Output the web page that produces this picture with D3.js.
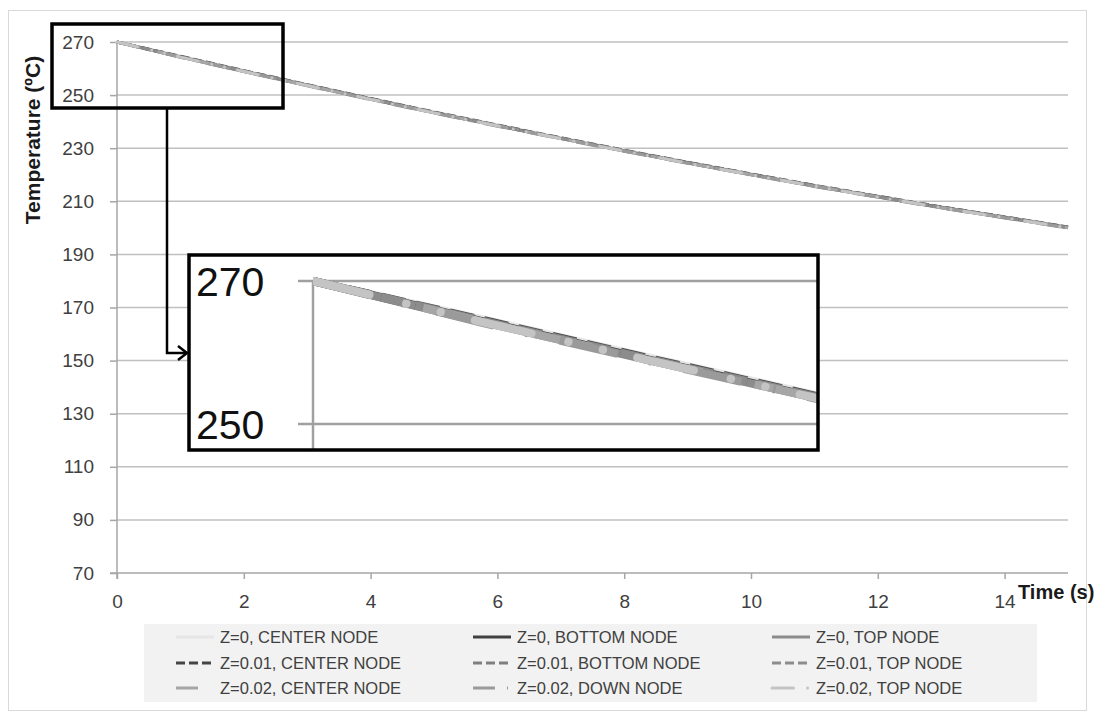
<!DOCTYPE html>
<html>
<head>
<meta charset="utf-8">
<script src="https://cdn.jsdelivr.net/npm/d3@7"></script>
<style>
  html, body { margin: 0; padding: 0; background: #fff; }
  svg { display: block; font-family: "Liberation Sans", Arial, sans-serif; }
</style>
</head>
<body>
<svg id="chart" width="1094" height="711"></svg>
<script>
// ---------------- data ----------------
const times = [0, 1, 2, 3, 4, 5, 6, 7, 8, 9, 10, 11, 12, 13, 14, 15];
const z0Center   = [270, 264.7, 259.3, 254.0, 248.8, 243.7, 238.8, 234.0, 229.3, 224.8, 220.4, 216.1, 212.0, 208.0, 204.2, 200.4];
const z0Bottom   = [270, 264.4, 259.0, 253.7, 248.5, 243.4, 238.5, 233.7, 229.0, 224.5, 220.1, 215.8, 211.7, 207.7, 203.9, 200.1];
const z0Top      = [270, 264.3, 258.9, 253.6, 248.4, 243.3, 238.4, 233.6, 228.9, 224.4, 220.0, 215.7, 211.6, 207.6, 203.8, 200.0];
const z001Center = [270, 264.6, 259.2, 253.9, 248.7, 243.6, 238.7, 233.9, 229.2, 224.7, 220.3, 216.0, 211.9, 207.9, 204.1, 200.3];
const z001Bottom = [270, 264.5, 259.1, 253.8, 248.6, 243.5, 238.6, 233.8, 229.1, 224.6, 220.2, 215.9, 211.8, 207.8, 204.0, 200.2];
const z001Top    = [270, 264.4, 259.0, 253.7, 248.5, 243.4, 238.5, 233.7, 229.0, 224.5, 220.1, 215.8, 211.7, 207.7, 203.9, 200.1];
const z002Center = [270, 264.3, 258.9, 253.6, 248.4, 243.3, 238.4, 233.6, 228.9, 224.4, 220.0, 215.7, 211.6, 207.6, 203.8, 200.0];
const z002Down   = [270, 264.2, 258.8, 253.5, 248.3, 243.2, 238.3, 233.5, 228.8, 224.3, 219.9, 215.6, 211.5, 207.5, 203.7, 199.9];
const z002Top    = [270, 264.3, 258.9, 253.6, 248.4, 243.3, 238.4, 233.6, 228.9, 224.4, 220.0, 215.7, 211.6, 207.6, 203.8, 200.0];

const seriesNames = [
  "Z=0, CENTER NODE", "Z=0, BOTTOM NODE", "Z=0, TOP NODE",
  "Z=0.01, CENTER NODE", "Z=0.01, BOTTOM NODE", "Z=0.01, TOP NODE",
  "Z=0.02, CENTER NODE", "Z=0.02, DOWN NODE", "Z=0.02, TOP NODE"
];
const seriesValues = [z0Center, z0Bottom, z0Top, z001Center, z001Bottom, z001Top, z002Center, z002Down, z002Top];

const yTicks = [70, 90, 110, 130, 150, 170, 190, 210, 230, 250, 270];
const xTicks = [0, 2, 4, 6, 8, 10, 12, 14];
const insetYTicks = [250, 270];

const yTitle = "Temperature (ºC)";
const xTitle = "Time (s)";

// ---------------- styles ----------------
const styles = [
  { color: "#e6e6e6", dash: null, cap: "butt" },
  { color: "#404040", dash: null, cap: "butt" },
  { color: "#8c8c8c", dash: null, cap: "butt" },
  { color: "#454545", dash: [9, 4], cap: "butt" },
  { color: "#7f7f7f", dash: [9, 4], cap: "butt" },
  { color: "#8c8c8c", dash: [9, 4], cap: "butt" },
  { color: "#a6a6a6", dash: [22, 20], cap: "butt" },
  { color: "#9a9a9a", dash: [22, 12, 1, 12], cap: "butt" },
  { color: "#c4c4c4", dash: [21.5, 14, 0.1, 13, 0.1, 13], cap: "round" }
];

const svg = d3.select("#chart");
const x = d3.scaleLinear().domain([0, 15]).range([117, 1068]);
const y = d3.scaleLinear().domain([70, 270]).range([573, 42]);

const series = seriesNames.map((name, i) => ({
  name, style: styles[i],
  pts: times.map((t, j) => [t, seriesValues[i][j]])
}));

// outer chart border
svg.append("rect").attr("x", 8.5).attr("y", 10.5).attr("width", 1078).attr("height", 700)
  .attr("fill", "none").attr("stroke", "#d9d9d9").attr("stroke-width", 1);

// gridlines
svg.append("g").selectAll("line").data(yTicks.filter(v => v > 70)).join("line")
  .attr("x1", x(0)).attr("x2", x(15))
  .attr("y1", d => y(d)).attr("y2", d => y(d))
  .attr("stroke", "#c0c0c0").attr("stroke-width", 1.5);

// y axis
const yAxis = svg.append("g").attr("transform", `translate(${x(0)},0)`)
  .call(d3.axisLeft(y).tickValues(yTicks).tickSize(7).tickPadding(16).tickSizeOuter(0));
yAxis.select(".domain").remove();
yAxis.selectAll(".tick line").attr("stroke", "#a6a6a6").attr("stroke-width", 1.5);
yAxis.selectAll("text").attr("font-size", 19).attr("fill", "#404040").attr("font-family", "Liberation Sans, Arial, sans-serif");

// x axis
const xAxis = svg.append("g").attr("transform", `translate(0,${y(70)})`)
  .call(d3.axisBottom(x).tickValues(xTicks).tickSize(6).tickPadding(16).tickSizeOuter(0));
xAxis.select(".domain").remove();
xAxis.selectAll(".tick line").attr("stroke", "#a6a6a6").attr("stroke-width", 1.5);
xAxis.selectAll("text").attr("font-size", 19).attr("fill", "#404040").attr("font-family", "Liberation Sans, Arial, sans-serif");

// axis lines
svg.append("line").attr("x1", x(0)).attr("x2", x(0)).attr("y1", y(270)).attr("y2", y(70) + 6)
  .attr("stroke", "#a6a6a6").attr("stroke-width", 1.5);
svg.append("line").attr("x1", x(0) - 7).attr("x2", x(15)).attr("y1", y(70)).attr("y2", y(70))
  .attr("stroke", "#a6a6a6").attr("stroke-width", 1.5);

// axis titles
svg.append("text").attr("transform", `translate(40,140) rotate(-90)`)
  .attr("text-anchor", "middle").attr("font-size", 21).attr("font-weight", "bold")
  .attr("fill", "#1a1a1a").text(yTitle);
svg.append("text").attr("x", 1018).attr("y", 599)
  .attr("font-size", 20).attr("font-weight", "bold").attr("fill", "#1a1a1a").text(xTitle);

// main lines
const line = d3.line().x(d => x(d[0])).y(d => y(d[1]));
svg.append("g").selectAll("path").data(series).join("path")
  .attr("d", d => line(d.pts))
  .attr("fill", "none")
  .attr("stroke", d => d.style.color)
  .attr("stroke-width", 3)
  .attr("stroke-linecap", d => d.style.cap)
  .attr("stroke-dasharray", d => d.style.dash ? d.style.dash.join(",") : null);

// zoom box on main chart
svg.append("rect").attr("x", 52).attr("y", 24).attr("width", 231).attr("height", 84)
  .attr("fill", "none").attr("stroke", "#000").attr("stroke-width", 3.5);
svg.append("path").attr("d", "M167,108 V353 H187").attr("fill", "none")
  .attr("stroke", "#000").attr("stroke-width", 2.5);
svg.append("path").attr("d", "M178,346 L187,353 L178,360").attr("fill", "none")
  .attr("stroke", "#000").attr("stroke-width", 2.5);

// ---------------- inset ----------------
const ix = d3.scaleLinear().domain([0, 3]).range([313, 817]);
const iy = d3.scaleLinear().domain([250, 270]).range([424, 281]);
const k = 2.7;

svg.append("rect").attr("x", 189).attr("y", 255).attr("width", 629).attr("height", 195)
  .attr("fill", "#fff").attr("stroke", "none");

svg.append("g").selectAll("line").data(insetYTicks).join("line")
  .attr("x1", 298).attr("x2", 817).attr("y1", d => iy(d)).attr("y2", d => iy(d))
  .attr("stroke", "#a0a0a0").attr("stroke-width", 2.5);
svg.append("line").attr("x1", ix(0)).attr("x2", ix(0)).attr("y1", iy(270)).attr("y2", 449)
  .attr("stroke", "#a0a0a0").attr("stroke-width", 2.5);

svg.append("g").selectAll("text").data(insetYTicks).join("text")
  .attr("x", 196).attr("y", d => iy(d) + 14.5)
  .attr("font-size", 41).attr("fill", "#111").text(d => d);

svg.append("defs").append("clipPath").attr("id", "insetClip")
  .append("rect").attr("x", ix(0)).attr("y", 257).attr("width", 817 - ix(0)).attr("height", 191);

const iline = d3.line().x(d => ix(d[0])).y(d => iy(d[1]));
svg.append("g").attr("clip-path", "url(#insetClip)")
  .selectAll("path").data(series).join("path")
  .attr("d", d => iline(d.pts.filter(p => p[0] <= 4)))
  .attr("fill", "none")
  .attr("stroke", d => d.style.color)
  .attr("stroke-width", 3 * k)
  .attr("stroke-linecap", d => d.style.cap)
  .attr("stroke-dasharray", d => d.style.dash ? d.style.dash.map(v => v * k).join(",") : null);

svg.append("rect").attr("x", 189).attr("y", 255).attr("width", 629).attr("height", 195)
  .attr("fill", "none").attr("stroke", "#000").attr("stroke-width", 3.5);

// ---------------- legend ----------------
svg.append("rect").attr("x", 144).attr("y", 624).attr("width", 893).attr("height", 78)
  .attr("fill", "#f2f2f2");
const colX = [176, 473, 772];
const rowY = [637, 663, 688];
const leg = svg.append("g").selectAll("g").data(series).join("g")
  .attr("transform", (d, i) => `translate(${colX[i % 3]},${rowY[Math.floor(i / 3)]})`);
leg.append("line").attr("x1", 0).attr("x2", 38).attr("y1", 0).attr("y2", 0)
  .attr("stroke", d => d.style.color).attr("stroke-width", 3)
  .attr("stroke-linecap", d => d.style.cap)
  .attr("stroke-dasharray", d => d.style.dash ? d.style.dash.join(",") : null);
leg.append("text").attr("x", 44).attr("dy", "0.36em")
  .attr("font-size", 16.5).attr("fill", "#404040").text(d => d.name);
</script>
</body>
</html>
